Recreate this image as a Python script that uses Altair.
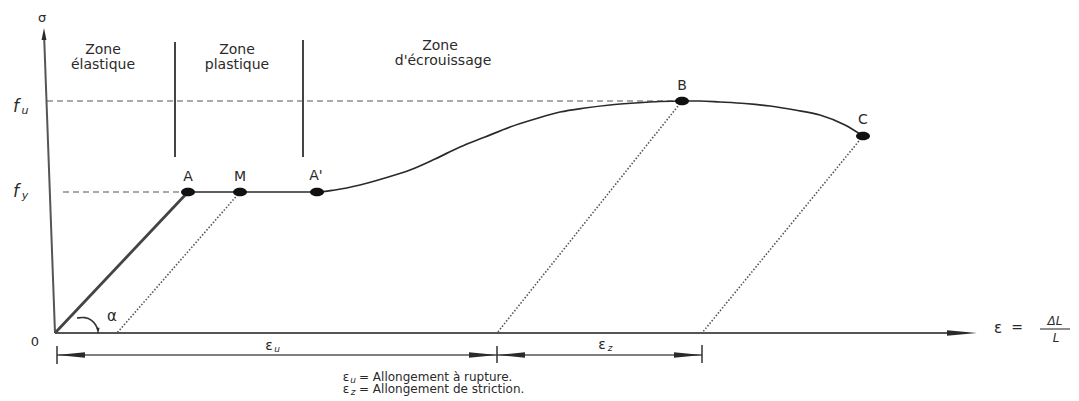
import altair as alt
import pandas as pd

# ---------------- data (drawing units: strain ε to the right of O, stress σ above O) -------------
pt_names = ["A", "M", "A'", "B", "C"]
pt_eps = [133, 185, 262, 627, 808]
pt_sig = [141, 141, 141, 232, 197]
pt_lab_eps = [133, 185, 261, 627, 808]
pt_lab_sig = [156, 156, 157, 247, 213]

elastic_eps = [0, 133]
elastic_sig = [0, 141]

curve_eps = [133, 185, 262, 280, 305, 330, 355, 380, 405, 430, 455, 480, 505, 530, 555,
             580, 605, 627, 645, 665, 690, 715, 740, 765, 790, 808]
curve_sig = [141, 141, 141, 143, 148, 155, 163, 174, 186, 196, 206, 214, 221, 225, 228,
             230, 231.5, 232, 232, 231, 229.5, 227, 223, 218, 208, 197]

unload_from_eps = [185, 627, 808]
unload_from_sig = [141, 232, 197]
unload_to_eps = [62, 442, 647]
unload_to_sig = [0, 0, 0]

guide_start_eps = [-8, 8]
guide_end_eps = [627, 133]
guide_sig = [232, 141]

zone_sep_eps = [120, 248]
zone_sep_bottom = [176, 176]
zone_sep_top = [291, 293]

zone_text = ["Zone", "élastique", "Zone", "plastique", "Zone", "d'écrouissage"]
zone_eps = [48, 48, 182, 182, 385, 388]
zone_sig = [283, 268, 283, 268, 287, 272]

axes_start_eps = [0, 0]
axes_start_sig = [0, 0]
axes_end_eps = [896, -11]
axes_end_sig = [0, 300]

dim_start_eps = [2]
dim_end_eps = [647]
dim_sig = [-22]
dim_tick_eps = [2, 442, 647]
dim_tick_low = [-31, -30, -30]
dim_tick_high = [-13, -13, -12]

arc_eps = [22, 30, 37, 41, 43]
arc_sig = [15, 16, 13, 8, 3]

# arrow heads: position and direction
arrow_eps_right = [907, 428, 633]
arrow_sig_right = [0, -22, -22]
arrow_eps_left = [16, 456]
arrow_sig_left = [-22, -22]
arrow_up_eps = [-11]
arrow_up_sig = [299]
arrow_down_eps = [43]
arrow_down_sig = [2]

frac_bar_eps = [985]
frac_bar_eps2 = [1015]
frac_bar_sig = [4]

# text items
sym_text = ["σ", "0"]
sym_eps = [-13, -20]
sym_sig = [315, -9]

f_text = ["f", "f"]
f_eps = [-39, -39]
f_sig = [226, 141]
fsub_text = ["u", "y"]
fsub_eps = [-30, -30]
fsub_sig = [222, 137]

eps_main_text = ["ε", "ε", "ε", "ε", "ε"]
eps_main_eps = [214, 547, 291, 291, 943]
eps_main_sig = [-13, -12, -44, -56, 5]
eps_main_size = [14, 14, 12, 12, 15]
eps_sub_text = ["u", "z", "u", "z"]
eps_sub_eps = [222, 555, 298, 298]
eps_sub_sig = [-16, -15, -47, -59]

legend_text = ["= Allongement à rupture.", "= Allongement de striction."]
legend_eps = [304, 304]
legend_sig = [-44, -56]

rhs_text = ["=", "ΔL", "L"]
rhs_eps = [962, 1000, 1001]
rhs_sig = [5, 12, -5]

alpha_text = ["α"]
alpha_eps = [57]
alpha_sig = [17]

# ---------------- scales ----------------
XS = alt.Scale(domain=[-47, 1016], nice=False, zero=False)
YS = alt.Scale(domain=[-68, 325], nice=False, zero=False)
FONT = "DejaVu Sans"
INK = "#2a2a2a"


def X(f="x"):
    return alt.X(f"{f}:Q", scale=XS, axis=None)


def Y(f="y"):
    return alt.Y(f"{f}:Q", scale=YS, axis=None)


def segs(x1, y1, x2, y2, **mark):
    df = pd.DataFrame({"x": x1, "y": y1, "x2": x2, "y2": y2})
    return alt.Chart(df).mark_rule(**mark).encode(
        x=X(), y=Y(), x2=alt.X2("x2:Q"), y2=alt.Y2("y2:Q"))


def polyline(xs, ys, **mark):
    df = pd.DataFrame({"x": xs, "y": ys, "i": list(range(len(xs)))})
    return alt.Chart(df).mark_line(**mark).encode(x=X(), y=Y(), order="i:Q")


def texts(txt, xs, ys, **mark):
    df = pd.DataFrame({"x": xs, "y": ys, "t": txt})
    base = dict(font=FONT, color=INK, align="center", baseline="middle")
    base.update(mark)
    return alt.Chart(df).mark_text(**base).encode(x=X(), y=Y(), text="t:N")


def shapes(xs, ys, shape, size, color=INK):
    df = pd.DataFrame({"x": xs, "y": ys})
    return alt.Chart(df).mark_point(shape=shape, size=size, filled=True, color=color,
                                    opacity=1, strokeWidth=0).encode(x=X(), y=Y())


layers = []
# axes
layers.append(segs(axes_start_eps, axes_start_sig, axes_end_eps, axes_end_sig,
                   color="#555555", strokeWidth=2))
layers.append(shapes(arrow_eps_right[:1], arrow_sig_right[:1], "M-1,-0.18L1,0L-1,0.18Z", 900))
layers.append(shapes(arrow_up_eps, arrow_up_sig, "M-0.4,1L0,-1L0.4,1Z", 150))

# guide dashed lines (fu, fy)
layers.append(segs(guide_start_eps, guide_sig, guide_end_eps, guide_sig,
                   color="#555555", strokeWidth=1.1, strokeDash=[6, 4]))
# zone separators
layers.append(segs(zone_sep_eps, zone_sep_bottom, zone_sep_eps, zone_sep_top,
                   color="#444444", strokeWidth=2))
# unloading dotted lines
layers.append(segs(unload_from_eps, unload_from_sig, unload_to_eps, unload_to_sig,
                   color="#555555", strokeWidth=1.6, strokeDash=[1.5, 1.8]))
# elastic line
layers.append(polyline(elastic_eps, elastic_sig, color="#444444", strokeWidth=2.8))
# main curve
layers.append(polyline(curve_eps, curve_sig, color=INK, strokeWidth=1.7, interpolate="monotone"))
# points
layers.append(shapes(pt_eps, pt_sig, "M-1,0A1,0.62 0 1,0 1,0A1,0.62 0 1,0 -1,0Z", 196, color="#111111"))
# angle arc
layers.append(polyline(arc_eps, arc_sig, color="#333333", strokeWidth=1.6, interpolate="basis"))
layers.append(shapes(arrow_down_eps, arrow_down_sig, "M-0.5,-1L0,1L0.5,-1Z", 40))

# dimension line
layers.append(segs(dim_start_eps, dim_sig, dim_end_eps, dim_sig, color="#555555", strokeWidth=1.3))
layers.append(segs(dim_tick_eps, dim_tick_low, dim_tick_eps, dim_tick_high, color="#333333", strokeWidth=1.5))
layers.append(shapes(arrow_eps_right[1:], arrow_sig_right[1:], "M-1,-0.2L1,0L-1,0.2Z", 784))
layers.append(shapes(arrow_eps_left, arrow_sig_left, "M1,-0.2L-1,0L1,0.2Z", 784))

# fraction bar
layers.append(segs(frac_bar_eps, frac_bar_sig, frac_bar_eps2, frac_bar_sig, color="#444444", strokeWidth=1.2))

# texts
layers.append(texts(zone_text, zone_eps, zone_sig, fontSize=14))
layers.append(texts(pt_names, pt_lab_eps, pt_lab_sig, fontSize=14))
layers.append(texts(sym_text, sym_eps, sym_sig, fontSize=13))
layers.append(texts(f_text, f_eps, f_sig, fontSize=17, fontStyle="italic"))
layers.append(texts(fsub_text, fsub_eps, fsub_sig, fontSize=11, fontStyle="italic"))
eps_df = pd.DataFrame({"x": eps_main_eps, "y": eps_main_sig, "t": eps_main_text, "s": eps_main_size})
layers.append(alt.Chart(eps_df).mark_text(font=FONT, color=INK, align="center", baseline="middle")
              .encode(x=X(), y=Y(), text="t:N", size=alt.Size("s:Q", scale=None, legend=None)))
layers.append(texts(eps_sub_text, eps_sub_eps, eps_sub_sig, fontSize=9, fontStyle="italic"))
layers.append(texts(legend_text, legend_eps, legend_sig, fontSize=12, align="left"))
layers.append(texts(rhs_text[:1], rhs_eps[:1], rhs_sig[:1], fontSize=14))
layers.append(texts(rhs_text[1:], rhs_eps[1:], rhs_sig[1:], fontSize=12, fontStyle="italic"))
layers.append(texts(alpha_text, alpha_eps, alpha_sig, fontSize=15))

chart = alt.layer(*layers).properties(
    width=1063, height=393, padding=0, background="white",
    autosize=alt.AutoSizeParams(type="none"),
).configure_view(strokeWidth=0)

chart.save("out.html", embed_options={"renderer": "svg", "actions": False})
